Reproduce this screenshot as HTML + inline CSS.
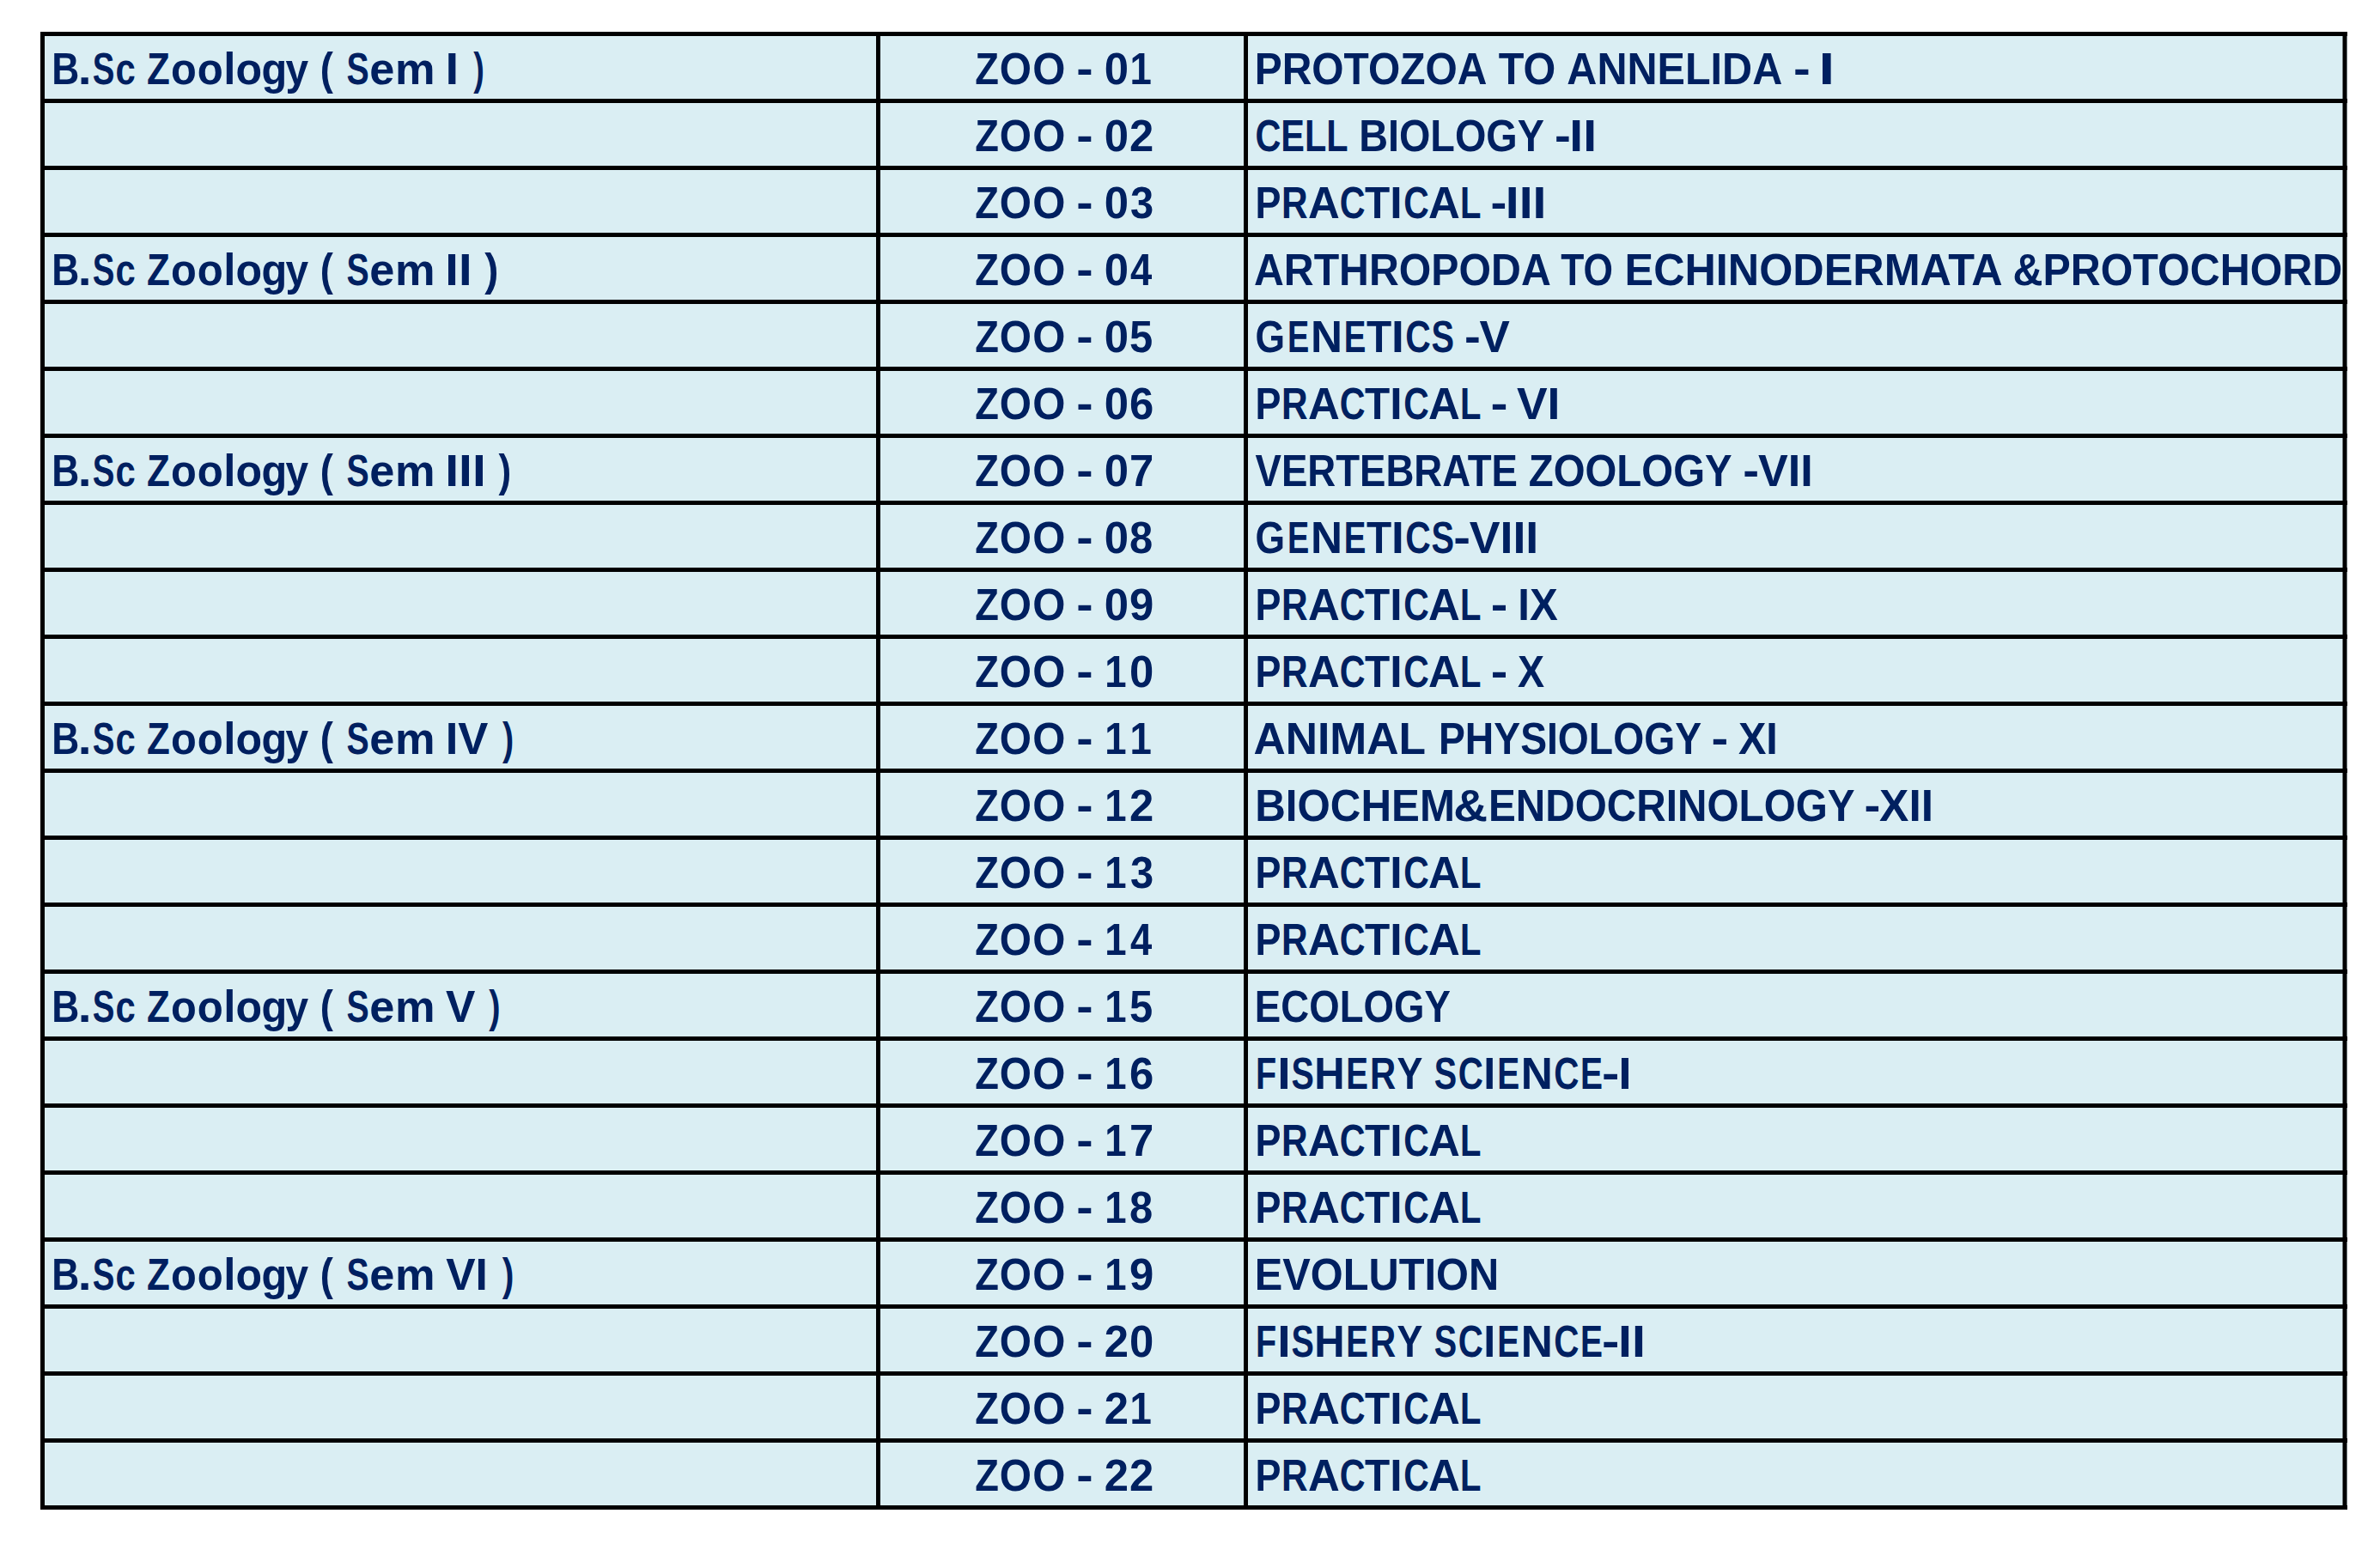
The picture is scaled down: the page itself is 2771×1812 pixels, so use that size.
<!DOCTYPE html>
<html><head><meta charset="utf-8"><title>B.Sc Zoology</title>
<style>html,body{margin:0;padding:0;background:#fff;overflow:hidden;}svg{display:block;}
.t{font-family:"Liberation Sans",sans-serif;font-weight:bold;font-size:52.5px;fill:#002060;white-space:pre;}</style></head>
<body>
<svg width="2771" height="1812" viewBox="0 0 2771 1812">
<rect x="0" y="0" width="2771" height="1812" fill="#fff"/>
<rect x="47" y="37" width="2686" height="1721" fill="#DAEEF3"/>
<g class="t">
<text><tspan x="60.22" y="98.00" textLength="32.05" lengthAdjust="spacingAndGlyphs">B</tspan><tspan x="90.76" y="98.00" textLength="15.84" lengthAdjust="spacingAndGlyphs">.</tspan><tspan x="107.74" y="98.00" textLength="25.65" lengthAdjust="spacingAndGlyphs">S</tspan><tspan x="134.61" y="98.00" textLength="23.25" lengthAdjust="spacingAndGlyphs">c</tspan><tspan x="157.85" y="98.00"> </tspan><tspan x="170.93" y="98.00" textLength="26.77" lengthAdjust="spacingAndGlyphs">Z</tspan><tspan x="198.94" y="98.00" textLength="29.79" lengthAdjust="spacingAndGlyphs">o</tspan><tspan x="229.73" y="98.00" textLength="30.02" lengthAdjust="spacingAndGlyphs">o</tspan><tspan x="260.21" y="98.00" textLength="14.18" lengthAdjust="spacingAndGlyphs">l</tspan><tspan x="274.39" y="98.00" textLength="30.59" lengthAdjust="spacingAndGlyphs">o</tspan><tspan x="304.45" y="98.00" textLength="29.70" lengthAdjust="spacingAndGlyphs">g</tspan><tspan x="332.39" y="98.00" textLength="26.60" lengthAdjust="spacingAndGlyphs">y</tspan><tspan x="358.98" y="98.00"> </tspan><tspan x="372.81" y="98.00" textLength="15.11" lengthAdjust="spacingAndGlyphs">(</tspan><tspan x="387.92" y="98.00"> </tspan><tspan x="403.50" y="98.00" textLength="26.22" lengthAdjust="spacingAndGlyphs">S</tspan><tspan x="430.31" y="98.00" textLength="29.09" lengthAdjust="spacingAndGlyphs">e</tspan><tspan x="460.01" y="98.00" textLength="46.57" lengthAdjust="spacingAndGlyphs">m</tspan><tspan x="506.58" y="98.00"> </tspan><tspan x="518.61" y="98.00" textLength="15.64" lengthAdjust="spacingAndGlyphs">I</tspan><tspan x="534.25" y="98.00"> </tspan><tspan x="551.20" y="98.00" textLength="12.59" lengthAdjust="spacingAndGlyphs">)</tspan></text>
<text><tspan x="1135.18" y="98.00" textLength="27.65" lengthAdjust="spacingAndGlyphs">Z</tspan><tspan x="1163.78" y="98.00" textLength="37.20" lengthAdjust="spacingAndGlyphs">O</tspan><tspan x="1202.13" y="98.00" textLength="38.19" lengthAdjust="spacingAndGlyphs">O</tspan><tspan x="1240.32" y="98.00"> </tspan><tspan x="1253.38" y="97.00" textLength="19.37" lengthAdjust="spacingAndGlyphs">-</tspan><tspan x="1272.75" y="98.00"> </tspan><tspan x="1285.71" y="98.00" textLength="28.27" lengthAdjust="spacingAndGlyphs">0</tspan><tspan x="1315.55" y="98.00" textLength="25.35" lengthAdjust="spacingAndGlyphs">1</tspan></text>
<text><tspan x="1460.75" y="98.00" textLength="270.66" lengthAdjust="spacingAndGlyphs">PROTOZOA</tspan><tspan x="1731.41" y="98.00"> </tspan><tspan x="1744.68" y="98.00" textLength="66.55" lengthAdjust="spacingAndGlyphs">TO</tspan><tspan x="1811.22" y="98.00"> </tspan><tspan x="1824.35" y="98.00" textLength="250.91" lengthAdjust="spacingAndGlyphs">ANNELIDA</tspan><tspan x="2075.26" y="98.00"> </tspan><tspan x="2088.04" y="97.00" textLength="19.77" lengthAdjust="spacingAndGlyphs">-</tspan><tspan x="2107.81" y="98.00"> </tspan><tspan x="2117.51" y="98.00" textLength="18.55" lengthAdjust="spacingAndGlyphs">I</tspan></text>
<text><tspan x="1135.18" y="176.00" textLength="27.65" lengthAdjust="spacingAndGlyphs">Z</tspan><tspan x="1163.78" y="176.00" textLength="37.20" lengthAdjust="spacingAndGlyphs">O</tspan><tspan x="1202.13" y="176.00" textLength="38.19" lengthAdjust="spacingAndGlyphs">O</tspan><tspan x="1240.32" y="176.00"> </tspan><tspan x="1253.38" y="175.00" textLength="19.37" lengthAdjust="spacingAndGlyphs">-</tspan><tspan x="1272.75" y="176.00"> </tspan><tspan x="1285.71" y="176.00" textLength="28.27" lengthAdjust="spacingAndGlyphs">0</tspan><tspan x="1314.96" y="176.00" textLength="28.27" lengthAdjust="spacingAndGlyphs">2</tspan></text>
<text><tspan x="1461.42" y="176.00" textLength="108.22" lengthAdjust="spacingAndGlyphs">CELL</tspan><tspan x="1569.64" y="176.00"> </tspan><tspan x="1582.13" y="176.00" textLength="215.86" lengthAdjust="spacingAndGlyphs">BIOLOGY</tspan><tspan x="1797.99" y="176.00"> </tspan><tspan x="1809.95" y="175.00" textLength="18.83" lengthAdjust="spacingAndGlyphs">-</tspan><tspan x="1827.35" y="176.00" textLength="31.71" lengthAdjust="spacingAndGlyphs">II</tspan></text>
<text><tspan x="1135.18" y="254.00" textLength="27.65" lengthAdjust="spacingAndGlyphs">Z</tspan><tspan x="1163.78" y="254.00" textLength="37.20" lengthAdjust="spacingAndGlyphs">O</tspan><tspan x="1202.13" y="254.00" textLength="38.19" lengthAdjust="spacingAndGlyphs">O</tspan><tspan x="1240.32" y="254.00"> </tspan><tspan x="1253.38" y="253.00" textLength="19.37" lengthAdjust="spacingAndGlyphs">-</tspan><tspan x="1272.75" y="254.00"> </tspan><tspan x="1285.71" y="254.00" textLength="28.27" lengthAdjust="spacingAndGlyphs">0</tspan><tspan x="1315.97" y="254.00" textLength="27.18" lengthAdjust="spacingAndGlyphs">3</tspan></text>
<text><tspan x="1461.38" y="254.00" textLength="29.96" lengthAdjust="spacingAndGlyphs">P</tspan><tspan x="1492.06" y="254.00" textLength="30.68" lengthAdjust="spacingAndGlyphs">R</tspan><tspan x="1522.96" y="254.00" textLength="36.81" lengthAdjust="spacingAndGlyphs">A</tspan><tspan x="1559.73" y="254.00" textLength="29.78" lengthAdjust="spacingAndGlyphs">C</tspan><tspan x="1588.99" y="254.00" textLength="29.19" lengthAdjust="spacingAndGlyphs">T</tspan><tspan x="1618.16" y="254.00" textLength="14.39" lengthAdjust="spacingAndGlyphs">I</tspan><tspan x="1634.34" y="254.00" textLength="29.56" lengthAdjust="spacingAndGlyphs">C</tspan><tspan x="1662.96" y="254.00" textLength="36.81" lengthAdjust="spacingAndGlyphs">A</tspan><tspan x="1700.05" y="254.00" textLength="24.43" lengthAdjust="spacingAndGlyphs">L</tspan><tspan x="1724.48" y="254.00"> </tspan><tspan x="1735.45" y="253.00" textLength="18.83" lengthAdjust="spacingAndGlyphs">-</tspan><tspan x="1752.84" y="254.00" textLength="47.66" lengthAdjust="spacingAndGlyphs">III</tspan></text>
<text><tspan x="60.22" y="332.00" textLength="32.05" lengthAdjust="spacingAndGlyphs">B</tspan><tspan x="90.76" y="332.00" textLength="15.84" lengthAdjust="spacingAndGlyphs">.</tspan><tspan x="107.74" y="332.00" textLength="25.65" lengthAdjust="spacingAndGlyphs">S</tspan><tspan x="134.61" y="332.00" textLength="23.25" lengthAdjust="spacingAndGlyphs">c</tspan><tspan x="157.85" y="332.00"> </tspan><tspan x="170.93" y="332.00" textLength="26.77" lengthAdjust="spacingAndGlyphs">Z</tspan><tspan x="198.94" y="332.00" textLength="29.79" lengthAdjust="spacingAndGlyphs">o</tspan><tspan x="229.73" y="332.00" textLength="30.02" lengthAdjust="spacingAndGlyphs">o</tspan><tspan x="260.21" y="332.00" textLength="14.18" lengthAdjust="spacingAndGlyphs">l</tspan><tspan x="274.39" y="332.00" textLength="30.59" lengthAdjust="spacingAndGlyphs">o</tspan><tspan x="304.45" y="332.00" textLength="29.70" lengthAdjust="spacingAndGlyphs">g</tspan><tspan x="332.39" y="332.00" textLength="26.60" lengthAdjust="spacingAndGlyphs">y</tspan><tspan x="358.98" y="332.00"> </tspan><tspan x="372.81" y="332.00" textLength="15.11" lengthAdjust="spacingAndGlyphs">(</tspan><tspan x="387.92" y="332.00"> </tspan><tspan x="403.50" y="332.00" textLength="26.22" lengthAdjust="spacingAndGlyphs">S</tspan><tspan x="430.31" y="332.00" textLength="29.09" lengthAdjust="spacingAndGlyphs">e</tspan><tspan x="460.01" y="332.00" textLength="46.57" lengthAdjust="spacingAndGlyphs">m</tspan><tspan x="506.58" y="332.00"> </tspan><tspan x="518.33" y="332.00" textLength="31.18" lengthAdjust="spacingAndGlyphs">II</tspan><tspan x="549.50" y="332.00"> </tspan><tspan x="564.20" y="332.00" textLength="16.20" lengthAdjust="spacingAndGlyphs">)</tspan></text>
<text><tspan x="1135.18" y="332.00" textLength="27.65" lengthAdjust="spacingAndGlyphs">Z</tspan><tspan x="1163.78" y="332.00" textLength="37.20" lengthAdjust="spacingAndGlyphs">O</tspan><tspan x="1202.13" y="332.00" textLength="38.19" lengthAdjust="spacingAndGlyphs">O</tspan><tspan x="1240.32" y="332.00"> </tspan><tspan x="1253.38" y="331.00" textLength="19.37" lengthAdjust="spacingAndGlyphs">-</tspan><tspan x="1272.75" y="332.00"> </tspan><tspan x="1285.71" y="332.00" textLength="28.27" lengthAdjust="spacingAndGlyphs">0</tspan><tspan x="1316.04" y="332.00" textLength="25.24" lengthAdjust="spacingAndGlyphs">4</tspan></text>
<text><tspan x="1459.96" y="332.00" textLength="345.79" lengthAdjust="spacingAndGlyphs">ARTHROPODA</tspan><tspan x="1805.75" y="332.00"> </tspan><tspan x="1817.26" y="332.00" textLength="60.81" lengthAdjust="spacingAndGlyphs">TO</tspan><tspan x="1878.06" y="332.00"> </tspan><tspan x="1891.56" y="332.00" textLength="440.03" lengthAdjust="spacingAndGlyphs">ECHINODERMATA</tspan><tspan x="2331.60" y="332.00"> </tspan><tspan x="2343.46" y="332.00" textLength="383.82" lengthAdjust="spacingAndGlyphs">&amp;PROTOCHORD</tspan></text>
<text><tspan x="1135.18" y="410.00" textLength="27.65" lengthAdjust="spacingAndGlyphs">Z</tspan><tspan x="1163.78" y="410.00" textLength="37.20" lengthAdjust="spacingAndGlyphs">O</tspan><tspan x="1202.13" y="410.00" textLength="38.19" lengthAdjust="spacingAndGlyphs">O</tspan><tspan x="1240.32" y="410.00"> </tspan><tspan x="1253.38" y="409.00" textLength="19.37" lengthAdjust="spacingAndGlyphs">-</tspan><tspan x="1272.75" y="410.00"> </tspan><tspan x="1285.71" y="410.00" textLength="28.27" lengthAdjust="spacingAndGlyphs">0</tspan><tspan x="1315.04" y="410.00" textLength="27.18" lengthAdjust="spacingAndGlyphs">5</tspan></text>
<text><tspan x="1461.61" y="410.00" textLength="34.60" lengthAdjust="spacingAndGlyphs">G</tspan><tspan x="1499.02" y="410.00" textLength="25.25" lengthAdjust="spacingAndGlyphs">E</tspan><tspan x="1525.89" y="410.00" textLength="37.04" lengthAdjust="spacingAndGlyphs">N</tspan><tspan x="1564.68" y="410.00" textLength="25.61" lengthAdjust="spacingAndGlyphs">E</tspan><tspan x="1590.89" y="410.00" textLength="29.19" lengthAdjust="spacingAndGlyphs">T</tspan><tspan x="1620.04" y="410.00" textLength="14.80" lengthAdjust="spacingAndGlyphs">I</tspan><tspan x="1636.34" y="410.00" textLength="29.56" lengthAdjust="spacingAndGlyphs">C</tspan><tspan x="1666.48" y="410.00" textLength="26.56" lengthAdjust="spacingAndGlyphs">S</tspan><tspan x="1693.04" y="410.00"> </tspan><tspan x="1704.95" y="409.00" textLength="18.83" lengthAdjust="spacingAndGlyphs">-</tspan><tspan x="1722.59" y="410.00" textLength="35.35" lengthAdjust="spacingAndGlyphs">V</tspan></text>
<text><tspan x="1135.18" y="488.00" textLength="27.65" lengthAdjust="spacingAndGlyphs">Z</tspan><tspan x="1163.78" y="488.00" textLength="37.20" lengthAdjust="spacingAndGlyphs">O</tspan><tspan x="1202.13" y="488.00" textLength="38.19" lengthAdjust="spacingAndGlyphs">O</tspan><tspan x="1240.32" y="488.00"> </tspan><tspan x="1253.38" y="487.00" textLength="19.37" lengthAdjust="spacingAndGlyphs">-</tspan><tspan x="1272.75" y="488.00"> </tspan><tspan x="1285.71" y="488.00" textLength="28.27" lengthAdjust="spacingAndGlyphs">0</tspan><tspan x="1314.96" y="488.00" textLength="28.27" lengthAdjust="spacingAndGlyphs">6</tspan></text>
<text><tspan x="1461.38" y="488.00" textLength="29.96" lengthAdjust="spacingAndGlyphs">P</tspan><tspan x="1492.06" y="488.00" textLength="30.68" lengthAdjust="spacingAndGlyphs">R</tspan><tspan x="1522.96" y="488.00" textLength="36.81" lengthAdjust="spacingAndGlyphs">A</tspan><tspan x="1559.73" y="488.00" textLength="29.78" lengthAdjust="spacingAndGlyphs">C</tspan><tspan x="1588.99" y="488.00" textLength="29.19" lengthAdjust="spacingAndGlyphs">T</tspan><tspan x="1618.16" y="488.00" textLength="14.39" lengthAdjust="spacingAndGlyphs">I</tspan><tspan x="1634.34" y="488.00" textLength="29.56" lengthAdjust="spacingAndGlyphs">C</tspan><tspan x="1662.96" y="488.00" textLength="36.81" lengthAdjust="spacingAndGlyphs">A</tspan><tspan x="1700.05" y="488.00" textLength="24.43" lengthAdjust="spacingAndGlyphs">L</tspan><tspan x="1724.48" y="488.00"> </tspan><tspan x="1735.51" y="487.00" textLength="20.04" lengthAdjust="spacingAndGlyphs">-</tspan><tspan x="1755.55" y="488.00"> </tspan><tspan x="1765.98" y="488.00" textLength="50.49" lengthAdjust="spacingAndGlyphs">VI</tspan></text>
<text><tspan x="60.22" y="566.00" textLength="32.05" lengthAdjust="spacingAndGlyphs">B</tspan><tspan x="90.76" y="566.00" textLength="15.84" lengthAdjust="spacingAndGlyphs">.</tspan><tspan x="107.74" y="566.00" textLength="25.65" lengthAdjust="spacingAndGlyphs">S</tspan><tspan x="134.61" y="566.00" textLength="23.25" lengthAdjust="spacingAndGlyphs">c</tspan><tspan x="157.85" y="566.00"> </tspan><tspan x="170.93" y="566.00" textLength="26.77" lengthAdjust="spacingAndGlyphs">Z</tspan><tspan x="198.94" y="566.00" textLength="29.79" lengthAdjust="spacingAndGlyphs">o</tspan><tspan x="229.73" y="566.00" textLength="30.02" lengthAdjust="spacingAndGlyphs">o</tspan><tspan x="260.21" y="566.00" textLength="14.18" lengthAdjust="spacingAndGlyphs">l</tspan><tspan x="274.39" y="566.00" textLength="30.59" lengthAdjust="spacingAndGlyphs">o</tspan><tspan x="304.45" y="566.00" textLength="29.70" lengthAdjust="spacingAndGlyphs">g</tspan><tspan x="332.39" y="566.00" textLength="26.60" lengthAdjust="spacingAndGlyphs">y</tspan><tspan x="358.98" y="566.00"> </tspan><tspan x="372.81" y="566.00" textLength="15.11" lengthAdjust="spacingAndGlyphs">(</tspan><tspan x="387.92" y="566.00"> </tspan><tspan x="403.50" y="566.00" textLength="26.22" lengthAdjust="spacingAndGlyphs">S</tspan><tspan x="430.31" y="566.00" textLength="29.09" lengthAdjust="spacingAndGlyphs">e</tspan><tspan x="460.01" y="566.00" textLength="46.57" lengthAdjust="spacingAndGlyphs">m</tspan><tspan x="506.58" y="566.00"> </tspan><tspan x="518.26" y="566.00" textLength="47.53" lengthAdjust="spacingAndGlyphs">III</tspan><tspan x="565.79" y="566.00"> </tspan><tspan x="580.60" y="566.00" textLength="14.69" lengthAdjust="spacingAndGlyphs">)</tspan></text>
<text><tspan x="1135.18" y="566.00" textLength="27.65" lengthAdjust="spacingAndGlyphs">Z</tspan><tspan x="1163.78" y="566.00" textLength="37.20" lengthAdjust="spacingAndGlyphs">O</tspan><tspan x="1202.13" y="566.00" textLength="38.19" lengthAdjust="spacingAndGlyphs">O</tspan><tspan x="1240.32" y="566.00"> </tspan><tspan x="1253.38" y="565.00" textLength="19.37" lengthAdjust="spacingAndGlyphs">-</tspan><tspan x="1272.75" y="566.00"> </tspan><tspan x="1285.71" y="566.00" textLength="28.27" lengthAdjust="spacingAndGlyphs">0</tspan><tspan x="1314.96" y="566.00" textLength="28.27" lengthAdjust="spacingAndGlyphs">7</tspan></text>
<text><tspan x="1461.53" y="566.00" textLength="305.48" lengthAdjust="spacingAndGlyphs">VERTEBRATE</tspan><tspan x="1767.01" y="566.00"> </tspan><tspan x="1779.69" y="566.00" textLength="236.96" lengthAdjust="spacingAndGlyphs">ZOOLOGY</tspan><tspan x="2016.65" y="566.00"> </tspan><tspan x="2029.35" y="565.00" textLength="18.83" lengthAdjust="spacingAndGlyphs">-</tspan><tspan x="2047.01" y="566.00" textLength="63.78" lengthAdjust="spacingAndGlyphs">VII</tspan></text>
<text><tspan x="1135.18" y="644.00" textLength="27.65" lengthAdjust="spacingAndGlyphs">Z</tspan><tspan x="1163.78" y="644.00" textLength="37.20" lengthAdjust="spacingAndGlyphs">O</tspan><tspan x="1202.13" y="644.00" textLength="38.19" lengthAdjust="spacingAndGlyphs">O</tspan><tspan x="1240.32" y="644.00"> </tspan><tspan x="1253.38" y="643.00" textLength="19.37" lengthAdjust="spacingAndGlyphs">-</tspan><tspan x="1272.75" y="644.00"> </tspan><tspan x="1285.71" y="644.00" textLength="28.27" lengthAdjust="spacingAndGlyphs">0</tspan><tspan x="1315.04" y="644.00" textLength="27.18" lengthAdjust="spacingAndGlyphs">8</tspan></text>
<text><tspan x="1461.61" y="644.00" textLength="34.60" lengthAdjust="spacingAndGlyphs">G</tspan><tspan x="1499.02" y="644.00" textLength="25.25" lengthAdjust="spacingAndGlyphs">E</tspan><tspan x="1525.89" y="644.00" textLength="37.04" lengthAdjust="spacingAndGlyphs">N</tspan><tspan x="1564.68" y="644.00" textLength="25.61" lengthAdjust="spacingAndGlyphs">E</tspan><tspan x="1590.89" y="644.00" textLength="29.19" lengthAdjust="spacingAndGlyphs">T</tspan><tspan x="1620.04" y="644.00" textLength="14.80" lengthAdjust="spacingAndGlyphs">I</tspan><tspan x="1636.34" y="644.00" textLength="29.56" lengthAdjust="spacingAndGlyphs">C</tspan><tspan x="1666.48" y="644.00" textLength="26.56" lengthAdjust="spacingAndGlyphs">S</tspan><tspan x="1692.24" y="643.00" textLength="19.77" lengthAdjust="spacingAndGlyphs">-</tspan><tspan x="1710.68" y="644.00" textLength="80.59" lengthAdjust="spacingAndGlyphs">VIII</tspan></text>
<text><tspan x="1135.18" y="722.00" textLength="27.65" lengthAdjust="spacingAndGlyphs">Z</tspan><tspan x="1163.78" y="722.00" textLength="37.20" lengthAdjust="spacingAndGlyphs">O</tspan><tspan x="1202.13" y="722.00" textLength="38.19" lengthAdjust="spacingAndGlyphs">O</tspan><tspan x="1240.32" y="722.00"> </tspan><tspan x="1253.38" y="721.00" textLength="19.37" lengthAdjust="spacingAndGlyphs">-</tspan><tspan x="1272.75" y="722.00"> </tspan><tspan x="1285.71" y="722.00" textLength="28.27" lengthAdjust="spacingAndGlyphs">0</tspan><tspan x="1314.96" y="722.00" textLength="28.27" lengthAdjust="spacingAndGlyphs">9</tspan></text>
<text><tspan x="1461.38" y="722.00" textLength="29.96" lengthAdjust="spacingAndGlyphs">P</tspan><tspan x="1492.06" y="722.00" textLength="30.68" lengthAdjust="spacingAndGlyphs">R</tspan><tspan x="1522.96" y="722.00" textLength="36.81" lengthAdjust="spacingAndGlyphs">A</tspan><tspan x="1559.73" y="722.00" textLength="29.78" lengthAdjust="spacingAndGlyphs">C</tspan><tspan x="1588.99" y="722.00" textLength="29.19" lengthAdjust="spacingAndGlyphs">T</tspan><tspan x="1618.16" y="722.00" textLength="14.39" lengthAdjust="spacingAndGlyphs">I</tspan><tspan x="1634.34" y="722.00" textLength="29.56" lengthAdjust="spacingAndGlyphs">C</tspan><tspan x="1662.96" y="722.00" textLength="36.81" lengthAdjust="spacingAndGlyphs">A</tspan><tspan x="1700.05" y="722.00" textLength="24.43" lengthAdjust="spacingAndGlyphs">L</tspan><tspan x="1724.48" y="722.00"> </tspan><tspan x="1735.75" y="721.00" textLength="19.64" lengthAdjust="spacingAndGlyphs">-</tspan><tspan x="1755.39" y="722.00"> </tspan><tspan x="1767.26" y="722.00" textLength="46.41" lengthAdjust="spacingAndGlyphs">IX</tspan></text>
<text><tspan x="1135.18" y="800.00" textLength="27.65" lengthAdjust="spacingAndGlyphs">Z</tspan><tspan x="1163.78" y="800.00" textLength="37.20" lengthAdjust="spacingAndGlyphs">O</tspan><tspan x="1202.13" y="800.00" textLength="38.19" lengthAdjust="spacingAndGlyphs">O</tspan><tspan x="1240.32" y="800.00"> </tspan><tspan x="1253.38" y="799.00" textLength="19.37" lengthAdjust="spacingAndGlyphs">-</tspan><tspan x="1272.75" y="800.00"> </tspan><tspan x="1286.30" y="800.00" textLength="25.35" lengthAdjust="spacingAndGlyphs">1</tspan><tspan x="1314.96" y="800.00" textLength="28.27" lengthAdjust="spacingAndGlyphs">0</tspan></text>
<text><tspan x="1461.38" y="800.00" textLength="29.96" lengthAdjust="spacingAndGlyphs">P</tspan><tspan x="1492.06" y="800.00" textLength="30.68" lengthAdjust="spacingAndGlyphs">R</tspan><tspan x="1522.96" y="800.00" textLength="36.81" lengthAdjust="spacingAndGlyphs">A</tspan><tspan x="1559.73" y="800.00" textLength="29.78" lengthAdjust="spacingAndGlyphs">C</tspan><tspan x="1588.99" y="800.00" textLength="29.19" lengthAdjust="spacingAndGlyphs">T</tspan><tspan x="1618.16" y="800.00" textLength="14.39" lengthAdjust="spacingAndGlyphs">I</tspan><tspan x="1634.34" y="800.00" textLength="29.56" lengthAdjust="spacingAndGlyphs">C</tspan><tspan x="1662.96" y="800.00" textLength="36.81" lengthAdjust="spacingAndGlyphs">A</tspan><tspan x="1700.05" y="800.00" textLength="24.43" lengthAdjust="spacingAndGlyphs">L</tspan><tspan x="1724.48" y="800.00"> </tspan><tspan x="1735.75" y="799.00" textLength="19.64" lengthAdjust="spacingAndGlyphs">-</tspan><tspan x="1755.39" y="800.00"> </tspan><tspan x="1766.91" y="800.00" textLength="31.10" lengthAdjust="spacingAndGlyphs">X</tspan></text>
<text><tspan x="60.22" y="878.00" textLength="32.05" lengthAdjust="spacingAndGlyphs">B</tspan><tspan x="90.76" y="878.00" textLength="15.84" lengthAdjust="spacingAndGlyphs">.</tspan><tspan x="107.74" y="878.00" textLength="25.65" lengthAdjust="spacingAndGlyphs">S</tspan><tspan x="134.61" y="878.00" textLength="23.25" lengthAdjust="spacingAndGlyphs">c</tspan><tspan x="157.85" y="878.00"> </tspan><tspan x="170.93" y="878.00" textLength="26.77" lengthAdjust="spacingAndGlyphs">Z</tspan><tspan x="198.94" y="878.00" textLength="29.79" lengthAdjust="spacingAndGlyphs">o</tspan><tspan x="229.73" y="878.00" textLength="30.02" lengthAdjust="spacingAndGlyphs">o</tspan><tspan x="260.21" y="878.00" textLength="14.18" lengthAdjust="spacingAndGlyphs">l</tspan><tspan x="274.39" y="878.00" textLength="30.59" lengthAdjust="spacingAndGlyphs">o</tspan><tspan x="304.45" y="878.00" textLength="29.70" lengthAdjust="spacingAndGlyphs">g</tspan><tspan x="332.39" y="878.00" textLength="26.60" lengthAdjust="spacingAndGlyphs">y</tspan><tspan x="358.98" y="878.00"> </tspan><tspan x="372.81" y="878.00" textLength="15.11" lengthAdjust="spacingAndGlyphs">(</tspan><tspan x="387.92" y="878.00"> </tspan><tspan x="403.50" y="878.00" textLength="26.22" lengthAdjust="spacingAndGlyphs">S</tspan><tspan x="430.31" y="878.00" textLength="29.09" lengthAdjust="spacingAndGlyphs">e</tspan><tspan x="460.01" y="878.00" textLength="46.57" lengthAdjust="spacingAndGlyphs">m</tspan><tspan x="506.58" y="878.00"> </tspan><tspan x="518.69" y="878.00" textLength="49.72" lengthAdjust="spacingAndGlyphs">IV</tspan><tspan x="568.41" y="878.00"> </tspan><tspan x="585.10" y="878.00" textLength="13.17" lengthAdjust="spacingAndGlyphs">)</tspan></text>
<text><tspan x="1135.18" y="878.00" textLength="27.65" lengthAdjust="spacingAndGlyphs">Z</tspan><tspan x="1163.78" y="878.00" textLength="37.20" lengthAdjust="spacingAndGlyphs">O</tspan><tspan x="1202.13" y="878.00" textLength="38.19" lengthAdjust="spacingAndGlyphs">O</tspan><tspan x="1240.32" y="878.00"> </tspan><tspan x="1253.38" y="877.00" textLength="19.37" lengthAdjust="spacingAndGlyphs">-</tspan><tspan x="1272.75" y="878.00"> </tspan><tspan x="1286.30" y="878.00" textLength="25.35" lengthAdjust="spacingAndGlyphs">1</tspan><tspan x="1315.55" y="878.00" textLength="25.35" lengthAdjust="spacingAndGlyphs">1</tspan></text>
<text><tspan x="1459.54" y="878.00" textLength="200.47" lengthAdjust="spacingAndGlyphs">ANIMAL</tspan><tspan x="1660.00" y="878.00"> </tspan><tspan x="1674.97" y="878.00" textLength="306.05" lengthAdjust="spacingAndGlyphs">PHYSIOLOGY</tspan><tspan x="1981.02" y="878.00"> </tspan><tspan x="1992.44" y="877.00" textLength="19.77" lengthAdjust="spacingAndGlyphs">-</tspan><tspan x="2012.21" y="878.00"> </tspan><tspan x="2023.88" y="878.00" textLength="45.86" lengthAdjust="spacingAndGlyphs">XI</tspan></text>
<text><tspan x="1135.18" y="956.00" textLength="27.65" lengthAdjust="spacingAndGlyphs">Z</tspan><tspan x="1163.78" y="956.00" textLength="37.20" lengthAdjust="spacingAndGlyphs">O</tspan><tspan x="1202.13" y="956.00" textLength="38.19" lengthAdjust="spacingAndGlyphs">O</tspan><tspan x="1240.32" y="956.00"> </tspan><tspan x="1253.38" y="955.00" textLength="19.37" lengthAdjust="spacingAndGlyphs">-</tspan><tspan x="1272.75" y="956.00"> </tspan><tspan x="1286.30" y="956.00" textLength="25.35" lengthAdjust="spacingAndGlyphs">1</tspan><tspan x="1314.96" y="956.00" textLength="28.27" lengthAdjust="spacingAndGlyphs">2</tspan></text>
<text><tspan x="1461.24" y="956.00" textLength="232.74" lengthAdjust="spacingAndGlyphs">BIOCHEM</tspan><tspan x="1692.20" y="956.00" textLength="39.82" lengthAdjust="spacingAndGlyphs">&amp;</tspan><tspan x="1733.07" y="956.00" textLength="426.60" lengthAdjust="spacingAndGlyphs">ENDOCRINOLOGY</tspan><tspan x="2159.66" y="956.00"> </tspan><tspan x="2170.45" y="955.00" textLength="18.83" lengthAdjust="spacingAndGlyphs">-</tspan><tspan x="2188.12" y="956.00" textLength="62.92" lengthAdjust="spacingAndGlyphs">XII</tspan></text>
<text><tspan x="1135.18" y="1034.00" textLength="27.65" lengthAdjust="spacingAndGlyphs">Z</tspan><tspan x="1163.78" y="1034.00" textLength="37.20" lengthAdjust="spacingAndGlyphs">O</tspan><tspan x="1202.13" y="1034.00" textLength="38.19" lengthAdjust="spacingAndGlyphs">O</tspan><tspan x="1240.32" y="1034.00"> </tspan><tspan x="1253.38" y="1033.00" textLength="19.37" lengthAdjust="spacingAndGlyphs">-</tspan><tspan x="1272.75" y="1034.00"> </tspan><tspan x="1286.30" y="1034.00" textLength="25.35" lengthAdjust="spacingAndGlyphs">1</tspan><tspan x="1315.97" y="1034.00" textLength="27.18" lengthAdjust="spacingAndGlyphs">3</tspan></text>
<text><tspan x="1461.38" y="1034.00" textLength="29.96" lengthAdjust="spacingAndGlyphs">P</tspan><tspan x="1492.06" y="1034.00" textLength="30.68" lengthAdjust="spacingAndGlyphs">R</tspan><tspan x="1522.96" y="1034.00" textLength="36.81" lengthAdjust="spacingAndGlyphs">A</tspan><tspan x="1559.73" y="1034.00" textLength="29.78" lengthAdjust="spacingAndGlyphs">C</tspan><tspan x="1588.99" y="1034.00" textLength="29.19" lengthAdjust="spacingAndGlyphs">T</tspan><tspan x="1618.16" y="1034.00" textLength="14.39" lengthAdjust="spacingAndGlyphs">I</tspan><tspan x="1634.34" y="1034.00" textLength="29.56" lengthAdjust="spacingAndGlyphs">C</tspan><tspan x="1662.96" y="1034.00" textLength="36.81" lengthAdjust="spacingAndGlyphs">A</tspan><tspan x="1700.05" y="1034.00" textLength="24.43" lengthAdjust="spacingAndGlyphs">L</tspan></text>
<text><tspan x="1135.18" y="1112.00" textLength="27.65" lengthAdjust="spacingAndGlyphs">Z</tspan><tspan x="1163.78" y="1112.00" textLength="37.20" lengthAdjust="spacingAndGlyphs">O</tspan><tspan x="1202.13" y="1112.00" textLength="38.19" lengthAdjust="spacingAndGlyphs">O</tspan><tspan x="1240.32" y="1112.00"> </tspan><tspan x="1253.38" y="1111.00" textLength="19.37" lengthAdjust="spacingAndGlyphs">-</tspan><tspan x="1272.75" y="1112.00"> </tspan><tspan x="1286.30" y="1112.00" textLength="25.35" lengthAdjust="spacingAndGlyphs">1</tspan><tspan x="1316.04" y="1112.00" textLength="25.24" lengthAdjust="spacingAndGlyphs">4</tspan></text>
<text><tspan x="1461.38" y="1112.00" textLength="29.96" lengthAdjust="spacingAndGlyphs">P</tspan><tspan x="1492.06" y="1112.00" textLength="30.68" lengthAdjust="spacingAndGlyphs">R</tspan><tspan x="1522.96" y="1112.00" textLength="36.81" lengthAdjust="spacingAndGlyphs">A</tspan><tspan x="1559.73" y="1112.00" textLength="29.78" lengthAdjust="spacingAndGlyphs">C</tspan><tspan x="1588.99" y="1112.00" textLength="29.19" lengthAdjust="spacingAndGlyphs">T</tspan><tspan x="1618.16" y="1112.00" textLength="14.39" lengthAdjust="spacingAndGlyphs">I</tspan><tspan x="1634.34" y="1112.00" textLength="29.56" lengthAdjust="spacingAndGlyphs">C</tspan><tspan x="1662.96" y="1112.00" textLength="36.81" lengthAdjust="spacingAndGlyphs">A</tspan><tspan x="1700.05" y="1112.00" textLength="24.43" lengthAdjust="spacingAndGlyphs">L</tspan></text>
<text><tspan x="60.22" y="1190.00" textLength="32.05" lengthAdjust="spacingAndGlyphs">B</tspan><tspan x="90.76" y="1190.00" textLength="15.84" lengthAdjust="spacingAndGlyphs">.</tspan><tspan x="107.74" y="1190.00" textLength="25.65" lengthAdjust="spacingAndGlyphs">S</tspan><tspan x="134.61" y="1190.00" textLength="23.25" lengthAdjust="spacingAndGlyphs">c</tspan><tspan x="157.85" y="1190.00"> </tspan><tspan x="170.93" y="1190.00" textLength="26.77" lengthAdjust="spacingAndGlyphs">Z</tspan><tspan x="198.94" y="1190.00" textLength="29.79" lengthAdjust="spacingAndGlyphs">o</tspan><tspan x="229.73" y="1190.00" textLength="30.02" lengthAdjust="spacingAndGlyphs">o</tspan><tspan x="260.21" y="1190.00" textLength="14.18" lengthAdjust="spacingAndGlyphs">l</tspan><tspan x="274.39" y="1190.00" textLength="30.59" lengthAdjust="spacingAndGlyphs">o</tspan><tspan x="304.45" y="1190.00" textLength="29.70" lengthAdjust="spacingAndGlyphs">g</tspan><tspan x="332.39" y="1190.00" textLength="26.60" lengthAdjust="spacingAndGlyphs">y</tspan><tspan x="358.98" y="1190.00"> </tspan><tspan x="372.81" y="1190.00" textLength="15.11" lengthAdjust="spacingAndGlyphs">(</tspan><tspan x="387.92" y="1190.00"> </tspan><tspan x="403.50" y="1190.00" textLength="26.22" lengthAdjust="spacingAndGlyphs">S</tspan><tspan x="430.31" y="1190.00" textLength="29.09" lengthAdjust="spacingAndGlyphs">e</tspan><tspan x="460.01" y="1190.00" textLength="46.57" lengthAdjust="spacingAndGlyphs">m</tspan><tspan x="506.58" y="1190.00"> </tspan><tspan x="518.92" y="1190.00" textLength="34.39" lengthAdjust="spacingAndGlyphs">V</tspan><tspan x="553.31" y="1190.00"> </tspan><tspan x="569.30" y="1190.00" textLength="13.29" lengthAdjust="spacingAndGlyphs">)</tspan></text>
<text><tspan x="1135.18" y="1190.00" textLength="27.65" lengthAdjust="spacingAndGlyphs">Z</tspan><tspan x="1163.78" y="1190.00" textLength="37.20" lengthAdjust="spacingAndGlyphs">O</tspan><tspan x="1202.13" y="1190.00" textLength="38.19" lengthAdjust="spacingAndGlyphs">O</tspan><tspan x="1240.32" y="1190.00"> </tspan><tspan x="1253.38" y="1189.00" textLength="19.37" lengthAdjust="spacingAndGlyphs">-</tspan><tspan x="1272.75" y="1190.00"> </tspan><tspan x="1286.30" y="1190.00" textLength="25.35" lengthAdjust="spacingAndGlyphs">1</tspan><tspan x="1315.04" y="1190.00" textLength="27.18" lengthAdjust="spacingAndGlyphs">5</tspan></text>
<text><tspan x="1460.83" y="1190.00" textLength="228.00" lengthAdjust="spacingAndGlyphs">ECOLOGY</tspan></text>
<text><tspan x="1135.18" y="1268.00" textLength="27.65" lengthAdjust="spacingAndGlyphs">Z</tspan><tspan x="1163.78" y="1268.00" textLength="37.20" lengthAdjust="spacingAndGlyphs">O</tspan><tspan x="1202.13" y="1268.00" textLength="38.19" lengthAdjust="spacingAndGlyphs">O</tspan><tspan x="1240.32" y="1268.00"> </tspan><tspan x="1253.38" y="1267.00" textLength="19.37" lengthAdjust="spacingAndGlyphs">-</tspan><tspan x="1272.75" y="1268.00"> </tspan><tspan x="1286.30" y="1268.00" textLength="25.35" lengthAdjust="spacingAndGlyphs">1</tspan><tspan x="1314.96" y="1268.00" textLength="28.27" lengthAdjust="spacingAndGlyphs">6</tspan></text>
<text><tspan x="1462.08" y="1268.00" textLength="24.18" lengthAdjust="spacingAndGlyphs">F</tspan><tspan x="1487.17" y="1268.00" textLength="15.43" lengthAdjust="spacingAndGlyphs">I</tspan><tspan x="1503.60" y="1268.00" textLength="26.33" lengthAdjust="spacingAndGlyphs">S</tspan><tspan x="1530.17" y="1268.00" textLength="35.39" lengthAdjust="spacingAndGlyphs">H</tspan><tspan x="1567.26" y="1268.00" textLength="25.73" lengthAdjust="spacingAndGlyphs">E</tspan><tspan x="1595.01" y="1268.00" textLength="30.22" lengthAdjust="spacingAndGlyphs">R</tspan><tspan x="1626.45" y="1268.00" textLength="29.94" lengthAdjust="spacingAndGlyphs">Y</tspan><tspan x="1656.38" y="1268.00"> </tspan><tspan x="1669.69" y="1268.00" textLength="26.44" lengthAdjust="spacingAndGlyphs">S</tspan><tspan x="1697.66" y="1268.00" textLength="29.11" lengthAdjust="spacingAndGlyphs">C</tspan><tspan x="1727.27" y="1268.00" textLength="13.97" lengthAdjust="spacingAndGlyphs">I</tspan><tspan x="1743.33" y="1268.00" textLength="25.97" lengthAdjust="spacingAndGlyphs">E</tspan><tspan x="1770.78" y="1268.00" textLength="37.16" lengthAdjust="spacingAndGlyphs">N</tspan><tspan x="1809.36" y="1268.00" textLength="29.22" lengthAdjust="spacingAndGlyphs">C</tspan><tspan x="1839.93" y="1268.00" textLength="25.97" lengthAdjust="spacingAndGlyphs">E</tspan><tspan x="1865.06" y="1267.00" textLength="20.44" lengthAdjust="spacingAndGlyphs">-</tspan><tspan x="1884.27" y="1268.00" textLength="15.43" lengthAdjust="spacingAndGlyphs">I</tspan></text>
<text><tspan x="1135.18" y="1346.00" textLength="27.65" lengthAdjust="spacingAndGlyphs">Z</tspan><tspan x="1163.78" y="1346.00" textLength="37.20" lengthAdjust="spacingAndGlyphs">O</tspan><tspan x="1202.13" y="1346.00" textLength="38.19" lengthAdjust="spacingAndGlyphs">O</tspan><tspan x="1240.32" y="1346.00"> </tspan><tspan x="1253.38" y="1345.00" textLength="19.37" lengthAdjust="spacingAndGlyphs">-</tspan><tspan x="1272.75" y="1346.00"> </tspan><tspan x="1286.30" y="1346.00" textLength="25.35" lengthAdjust="spacingAndGlyphs">1</tspan><tspan x="1314.96" y="1346.00" textLength="28.27" lengthAdjust="spacingAndGlyphs">7</tspan></text>
<text><tspan x="1461.38" y="1346.00" textLength="29.96" lengthAdjust="spacingAndGlyphs">P</tspan><tspan x="1492.06" y="1346.00" textLength="30.68" lengthAdjust="spacingAndGlyphs">R</tspan><tspan x="1522.96" y="1346.00" textLength="36.81" lengthAdjust="spacingAndGlyphs">A</tspan><tspan x="1559.73" y="1346.00" textLength="29.78" lengthAdjust="spacingAndGlyphs">C</tspan><tspan x="1588.99" y="1346.00" textLength="29.19" lengthAdjust="spacingAndGlyphs">T</tspan><tspan x="1618.16" y="1346.00" textLength="14.39" lengthAdjust="spacingAndGlyphs">I</tspan><tspan x="1634.34" y="1346.00" textLength="29.56" lengthAdjust="spacingAndGlyphs">C</tspan><tspan x="1662.96" y="1346.00" textLength="36.81" lengthAdjust="spacingAndGlyphs">A</tspan><tspan x="1700.05" y="1346.00" textLength="24.43" lengthAdjust="spacingAndGlyphs">L</tspan></text>
<text><tspan x="1135.18" y="1424.00" textLength="27.65" lengthAdjust="spacingAndGlyphs">Z</tspan><tspan x="1163.78" y="1424.00" textLength="37.20" lengthAdjust="spacingAndGlyphs">O</tspan><tspan x="1202.13" y="1424.00" textLength="38.19" lengthAdjust="spacingAndGlyphs">O</tspan><tspan x="1240.32" y="1424.00"> </tspan><tspan x="1253.38" y="1423.00" textLength="19.37" lengthAdjust="spacingAndGlyphs">-</tspan><tspan x="1272.75" y="1424.00"> </tspan><tspan x="1286.30" y="1424.00" textLength="25.35" lengthAdjust="spacingAndGlyphs">1</tspan><tspan x="1315.04" y="1424.00" textLength="27.18" lengthAdjust="spacingAndGlyphs">8</tspan></text>
<text><tspan x="1461.38" y="1424.00" textLength="29.96" lengthAdjust="spacingAndGlyphs">P</tspan><tspan x="1492.06" y="1424.00" textLength="30.68" lengthAdjust="spacingAndGlyphs">R</tspan><tspan x="1522.96" y="1424.00" textLength="36.81" lengthAdjust="spacingAndGlyphs">A</tspan><tspan x="1559.73" y="1424.00" textLength="29.78" lengthAdjust="spacingAndGlyphs">C</tspan><tspan x="1588.99" y="1424.00" textLength="29.19" lengthAdjust="spacingAndGlyphs">T</tspan><tspan x="1618.16" y="1424.00" textLength="14.39" lengthAdjust="spacingAndGlyphs">I</tspan><tspan x="1634.34" y="1424.00" textLength="29.56" lengthAdjust="spacingAndGlyphs">C</tspan><tspan x="1662.96" y="1424.00" textLength="36.81" lengthAdjust="spacingAndGlyphs">A</tspan><tspan x="1700.05" y="1424.00" textLength="24.43" lengthAdjust="spacingAndGlyphs">L</tspan></text>
<text><tspan x="60.22" y="1502.00" textLength="32.05" lengthAdjust="spacingAndGlyphs">B</tspan><tspan x="90.76" y="1502.00" textLength="15.84" lengthAdjust="spacingAndGlyphs">.</tspan><tspan x="107.74" y="1502.00" textLength="25.65" lengthAdjust="spacingAndGlyphs">S</tspan><tspan x="134.61" y="1502.00" textLength="23.25" lengthAdjust="spacingAndGlyphs">c</tspan><tspan x="157.85" y="1502.00"> </tspan><tspan x="170.93" y="1502.00" textLength="26.77" lengthAdjust="spacingAndGlyphs">Z</tspan><tspan x="198.94" y="1502.00" textLength="29.79" lengthAdjust="spacingAndGlyphs">o</tspan><tspan x="229.73" y="1502.00" textLength="30.02" lengthAdjust="spacingAndGlyphs">o</tspan><tspan x="260.21" y="1502.00" textLength="14.18" lengthAdjust="spacingAndGlyphs">l</tspan><tspan x="274.39" y="1502.00" textLength="30.59" lengthAdjust="spacingAndGlyphs">o</tspan><tspan x="304.45" y="1502.00" textLength="29.70" lengthAdjust="spacingAndGlyphs">g</tspan><tspan x="332.39" y="1502.00" textLength="26.60" lengthAdjust="spacingAndGlyphs">y</tspan><tspan x="358.98" y="1502.00"> </tspan><tspan x="372.81" y="1502.00" textLength="15.11" lengthAdjust="spacingAndGlyphs">(</tspan><tspan x="387.92" y="1502.00"> </tspan><tspan x="403.50" y="1502.00" textLength="26.22" lengthAdjust="spacingAndGlyphs">S</tspan><tspan x="430.31" y="1502.00" textLength="29.09" lengthAdjust="spacingAndGlyphs">e</tspan><tspan x="460.01" y="1502.00" textLength="46.57" lengthAdjust="spacingAndGlyphs">m</tspan><tspan x="506.58" y="1502.00"> </tspan><tspan x="519.22" y="1502.00" textLength="48.62" lengthAdjust="spacingAndGlyphs">VI</tspan><tspan x="567.84" y="1502.00"> </tspan><tspan x="584.70" y="1502.00" textLength="13.64" lengthAdjust="spacingAndGlyphs">)</tspan></text>
<text><tspan x="1135.18" y="1502.00" textLength="27.65" lengthAdjust="spacingAndGlyphs">Z</tspan><tspan x="1163.78" y="1502.00" textLength="37.20" lengthAdjust="spacingAndGlyphs">O</tspan><tspan x="1202.13" y="1502.00" textLength="38.19" lengthAdjust="spacingAndGlyphs">O</tspan><tspan x="1240.32" y="1502.00"> </tspan><tspan x="1253.38" y="1501.00" textLength="19.37" lengthAdjust="spacingAndGlyphs">-</tspan><tspan x="1272.75" y="1502.00"> </tspan><tspan x="1286.30" y="1502.00" textLength="25.35" lengthAdjust="spacingAndGlyphs">1</tspan><tspan x="1314.96" y="1502.00" textLength="28.27" lengthAdjust="spacingAndGlyphs">9</tspan></text>
<text><tspan x="1460.79" y="1502.00" textLength="284.35" lengthAdjust="spacingAndGlyphs">EVOLUTION</tspan></text>
<text><tspan x="1135.18" y="1580.00" textLength="27.65" lengthAdjust="spacingAndGlyphs">Z</tspan><tspan x="1163.78" y="1580.00" textLength="37.20" lengthAdjust="spacingAndGlyphs">O</tspan><tspan x="1202.13" y="1580.00" textLength="38.19" lengthAdjust="spacingAndGlyphs">O</tspan><tspan x="1240.32" y="1580.00"> </tspan><tspan x="1253.38" y="1579.00" textLength="19.37" lengthAdjust="spacingAndGlyphs">-</tspan><tspan x="1272.75" y="1580.00"> </tspan><tspan x="1285.71" y="1580.00" textLength="28.27" lengthAdjust="spacingAndGlyphs">2</tspan><tspan x="1314.96" y="1580.00" textLength="28.27" lengthAdjust="spacingAndGlyphs">0</tspan></text>
<text><tspan x="1462.08" y="1580.00" textLength="24.18" lengthAdjust="spacingAndGlyphs">F</tspan><tspan x="1487.17" y="1580.00" textLength="15.43" lengthAdjust="spacingAndGlyphs">I</tspan><tspan x="1503.60" y="1580.00" textLength="26.33" lengthAdjust="spacingAndGlyphs">S</tspan><tspan x="1530.17" y="1580.00" textLength="35.39" lengthAdjust="spacingAndGlyphs">H</tspan><tspan x="1567.26" y="1580.00" textLength="25.73" lengthAdjust="spacingAndGlyphs">E</tspan><tspan x="1595.01" y="1580.00" textLength="30.22" lengthAdjust="spacingAndGlyphs">R</tspan><tspan x="1626.45" y="1580.00" textLength="29.94" lengthAdjust="spacingAndGlyphs">Y</tspan><tspan x="1656.38" y="1580.00"> </tspan><tspan x="1669.69" y="1580.00" textLength="26.44" lengthAdjust="spacingAndGlyphs">S</tspan><tspan x="1697.66" y="1580.00" textLength="29.11" lengthAdjust="spacingAndGlyphs">C</tspan><tspan x="1727.27" y="1580.00" textLength="13.97" lengthAdjust="spacingAndGlyphs">I</tspan><tspan x="1743.33" y="1580.00" textLength="25.97" lengthAdjust="spacingAndGlyphs">E</tspan><tspan x="1770.78" y="1580.00" textLength="37.16" lengthAdjust="spacingAndGlyphs">N</tspan><tspan x="1809.36" y="1580.00" textLength="29.22" lengthAdjust="spacingAndGlyphs">C</tspan><tspan x="1839.93" y="1580.00" textLength="25.97" lengthAdjust="spacingAndGlyphs">E</tspan><tspan x="1865.06" y="1579.00" textLength="20.44" lengthAdjust="spacingAndGlyphs">-</tspan><tspan x="1884.14" y="1580.00" textLength="31.84" lengthAdjust="spacingAndGlyphs">II</tspan></text>
<text><tspan x="1135.18" y="1658.00" textLength="27.65" lengthAdjust="spacingAndGlyphs">Z</tspan><tspan x="1163.78" y="1658.00" textLength="37.20" lengthAdjust="spacingAndGlyphs">O</tspan><tspan x="1202.13" y="1658.00" textLength="38.19" lengthAdjust="spacingAndGlyphs">O</tspan><tspan x="1240.32" y="1658.00"> </tspan><tspan x="1253.38" y="1657.00" textLength="19.37" lengthAdjust="spacingAndGlyphs">-</tspan><tspan x="1272.75" y="1658.00"> </tspan><tspan x="1285.71" y="1658.00" textLength="28.27" lengthAdjust="spacingAndGlyphs">2</tspan><tspan x="1315.55" y="1658.00" textLength="25.35" lengthAdjust="spacingAndGlyphs">1</tspan></text>
<text><tspan x="1461.38" y="1658.00" textLength="29.96" lengthAdjust="spacingAndGlyphs">P</tspan><tspan x="1492.06" y="1658.00" textLength="30.68" lengthAdjust="spacingAndGlyphs">R</tspan><tspan x="1522.96" y="1658.00" textLength="36.81" lengthAdjust="spacingAndGlyphs">A</tspan><tspan x="1559.73" y="1658.00" textLength="29.78" lengthAdjust="spacingAndGlyphs">C</tspan><tspan x="1588.99" y="1658.00" textLength="29.19" lengthAdjust="spacingAndGlyphs">T</tspan><tspan x="1618.16" y="1658.00" textLength="14.39" lengthAdjust="spacingAndGlyphs">I</tspan><tspan x="1634.34" y="1658.00" textLength="29.56" lengthAdjust="spacingAndGlyphs">C</tspan><tspan x="1662.96" y="1658.00" textLength="36.81" lengthAdjust="spacingAndGlyphs">A</tspan><tspan x="1700.05" y="1658.00" textLength="24.43" lengthAdjust="spacingAndGlyphs">L</tspan></text>
<text><tspan x="1135.18" y="1736.00" textLength="27.65" lengthAdjust="spacingAndGlyphs">Z</tspan><tspan x="1163.78" y="1736.00" textLength="37.20" lengthAdjust="spacingAndGlyphs">O</tspan><tspan x="1202.13" y="1736.00" textLength="38.19" lengthAdjust="spacingAndGlyphs">O</tspan><tspan x="1240.32" y="1736.00"> </tspan><tspan x="1253.38" y="1735.00" textLength="19.37" lengthAdjust="spacingAndGlyphs">-</tspan><tspan x="1272.75" y="1736.00"> </tspan><tspan x="1285.71" y="1736.00" textLength="28.27" lengthAdjust="spacingAndGlyphs">2</tspan><tspan x="1314.96" y="1736.00" textLength="28.27" lengthAdjust="spacingAndGlyphs">2</tspan></text>
<text><tspan x="1461.38" y="1736.00" textLength="29.96" lengthAdjust="spacingAndGlyphs">P</tspan><tspan x="1492.06" y="1736.00" textLength="30.68" lengthAdjust="spacingAndGlyphs">R</tspan><tspan x="1522.96" y="1736.00" textLength="36.81" lengthAdjust="spacingAndGlyphs">A</tspan><tspan x="1559.73" y="1736.00" textLength="29.78" lengthAdjust="spacingAndGlyphs">C</tspan><tspan x="1588.99" y="1736.00" textLength="29.19" lengthAdjust="spacingAndGlyphs">T</tspan><tspan x="1618.16" y="1736.00" textLength="14.39" lengthAdjust="spacingAndGlyphs">I</tspan><tspan x="1634.34" y="1736.00" textLength="29.56" lengthAdjust="spacingAndGlyphs">C</tspan><tspan x="1662.96" y="1736.00" textLength="36.81" lengthAdjust="spacingAndGlyphs">A</tspan><tspan x="1700.05" y="1736.00" textLength="24.43" lengthAdjust="spacingAndGlyphs">L</tspan></text>
</g>
<g fill="#000">
<rect x="47" y="37" width="2686" height="5"/>
<rect x="47" y="115" width="2686" height="5"/>
<rect x="47" y="193" width="2686" height="5"/>
<rect x="47" y="271" width="2686" height="5"/>
<rect x="47" y="349" width="2686" height="5"/>
<rect x="47" y="427" width="2686" height="5"/>
<rect x="47" y="505" width="2686" height="5"/>
<rect x="47" y="583" width="2686" height="5"/>
<rect x="47" y="661" width="2686" height="5"/>
<rect x="47" y="739" width="2686" height="5"/>
<rect x="47" y="817" width="2686" height="5"/>
<rect x="47" y="895" width="2686" height="5"/>
<rect x="47" y="973" width="2686" height="5"/>
<rect x="47" y="1051" width="2686" height="5"/>
<rect x="47" y="1129" width="2686" height="5"/>
<rect x="47" y="1207" width="2686" height="5"/>
<rect x="47" y="1285" width="2686" height="5"/>
<rect x="47" y="1363" width="2686" height="5"/>
<rect x="47" y="1441" width="2686" height="5"/>
<rect x="47" y="1519" width="2686" height="5"/>
<rect x="47" y="1597" width="2686" height="5"/>
<rect x="47" y="1675" width="2686" height="5"/>
<rect x="47" y="1753" width="2686" height="5"/>
<rect x="47" y="37" width="5" height="1721"/>
<rect x="1020" y="37" width="5" height="1721"/>
<rect x="1448" y="37" width="5" height="1721"/>
<rect x="2727.5" y="37" width="5" height="1721"/>
</g>
</svg>
</body></html>
